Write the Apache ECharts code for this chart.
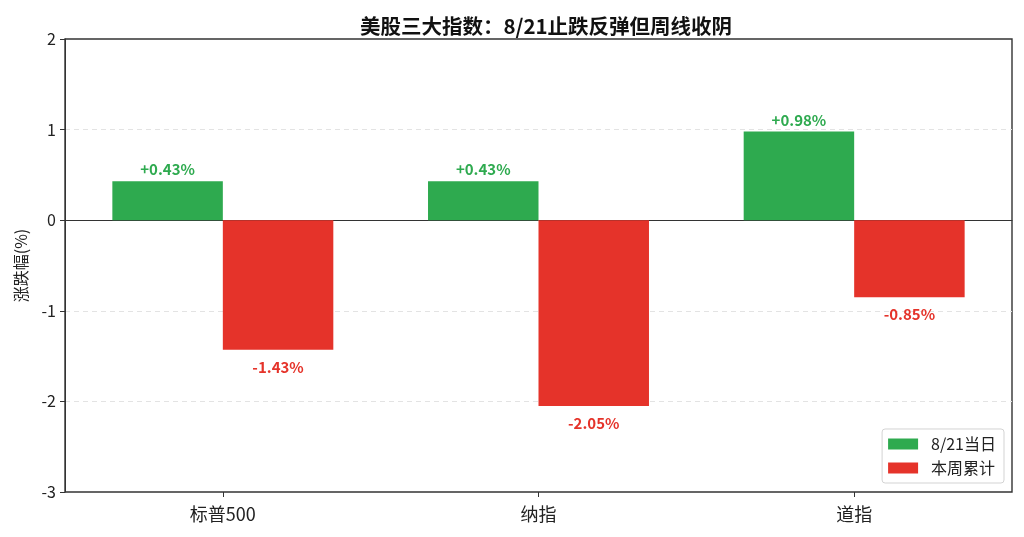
<!DOCTYPE html>
<html>
<head>
<meta charset="utf-8">
<script src="https://cdn.jsdelivr.net/npm/echarts@6/dist/echarts.min.js"></script>
<style>
  html, body { margin: 0; padding: 0; background: #fff; }
  #chart { width: 1024px; height: 537px; }
</style>
</head>
<body>
<div id="chart"></div>
<script>
const categories = ['标普500', '纳指', '道指'];
const dailyChange = [0.43, 0.43, 0.98];
const weeklyChange = [-1.43, -2.05, -0.85];
const yTicks = [-3, -2, -1, 0, 1, 2];

const GREEN = '#2eaa4f';
const RED = '#e5332a';
const FONT = '"Noto Sans CJK SC", "Noto Sans", sans-serif';

const chart = echarts.init(document.getElementById('chart'));

const fmt = v => (v > 0 ? '+' : '') + v.toFixed(2) + '%';

const option = {
  animation: false,
  textStyle: { fontFamily: FONT },
  title: {
    text: '美股三大指数：8/21止跌反弹但周线收阴',
    left: 541,
    textAlign: 'center',
    top: 11,
    textStyle: { fontSize: 20.5, fontWeight: 'bold', color: '#111', fontFamily: FONT }
  },
  legend: {
    right: 20,
    bottom: 54,
    orient: 'vertical',
    icon: 'rect',
    itemWidth: 30,
    itemHeight: 11,
    itemGap: 8,
    padding: [7, 8, 7, 6],
    borderColor: '#d3d3d3',
    borderWidth: 1,
    borderRadius: 3,
    textStyle: { fontSize: 16, color: '#222', fontFamily: FONT, padding: [0, 0, 0, 8] },
    data: ['8/21当日', '本周累计']
  },
  grid: {
    left: 65,
    right: 12,
    top: 39,
    bottom: 45,
    show: true,
    borderColor: '#333',
    borderWidth: 1.4
  },
  xAxis: [
    {
      type: 'category',
      data: categories,
      axisLine: { onZero: true, lineStyle: { color: '#333', width: 1 } },
      axisTick: { show: false },
      axisLabel: { show: false }
    },
    {
      // category names below the frame
      type: 'category',
      data: categories,
      position: 'bottom',
      axisLine: { show: false, onZero: false },
      axisTick: { show: true, alignWithLabel: true, length: 5, lineStyle: { color: '#333' } },
      axisLabel: { fontSize: 18, color: '#222', margin: 13, fontFamily: FONT }
    }
  ],
  yAxis: {
    type: 'value',
    min: yTicks[0],
    max: yTicks[yTicks.length - 1],
    interval: 1,
    name: '涨跌幅(%)',
    nameLocation: 'middle',
    nameGap: 36,
    nameTextStyle: { fontSize: 16, color: '#222', fontFamily: FONT },
    axisLine: { show: true, lineStyle: { color: '#333' } },
    axisTick: { show: true, length: 5, lineStyle: { color: '#333' } },
    axisLabel: { fontSize: 16, color: '#222', margin: 9 },
    splitLine: {
      show: true,
      showMinLine: false,
      showMaxLine: false,
      lineStyle: { color: '#e3e3e3', type: [5, 4] }
    }
  },
  series: [
    {
      name: '8/21当日',
      type: 'bar',
      data: dailyChange,
      barGap: '0%',
      barCategoryGap: '30%',
      itemStyle: { color: GREEN },
      label: {
        show: true,
        position: 'top',
        distance: 4,
        formatter: p => fmt(p.value),
        color: GREEN,
        fontSize: 15,
        fontWeight: 'bold',
        fontFamily: FONT
      }
    },
    {
      name: '本周累计',
      type: 'bar',
      data: weeklyChange,
      itemStyle: { color: RED },
      label: {
        show: true,
        position: 'bottom',
        distance: 10,
        formatter: p => fmt(p.value),
        color: RED,
        fontSize: 15,
        fontWeight: 'bold',
        fontFamily: FONT
      }
    }
  ]
};

chart.setOption(option);
</script>
</body>
</html>
